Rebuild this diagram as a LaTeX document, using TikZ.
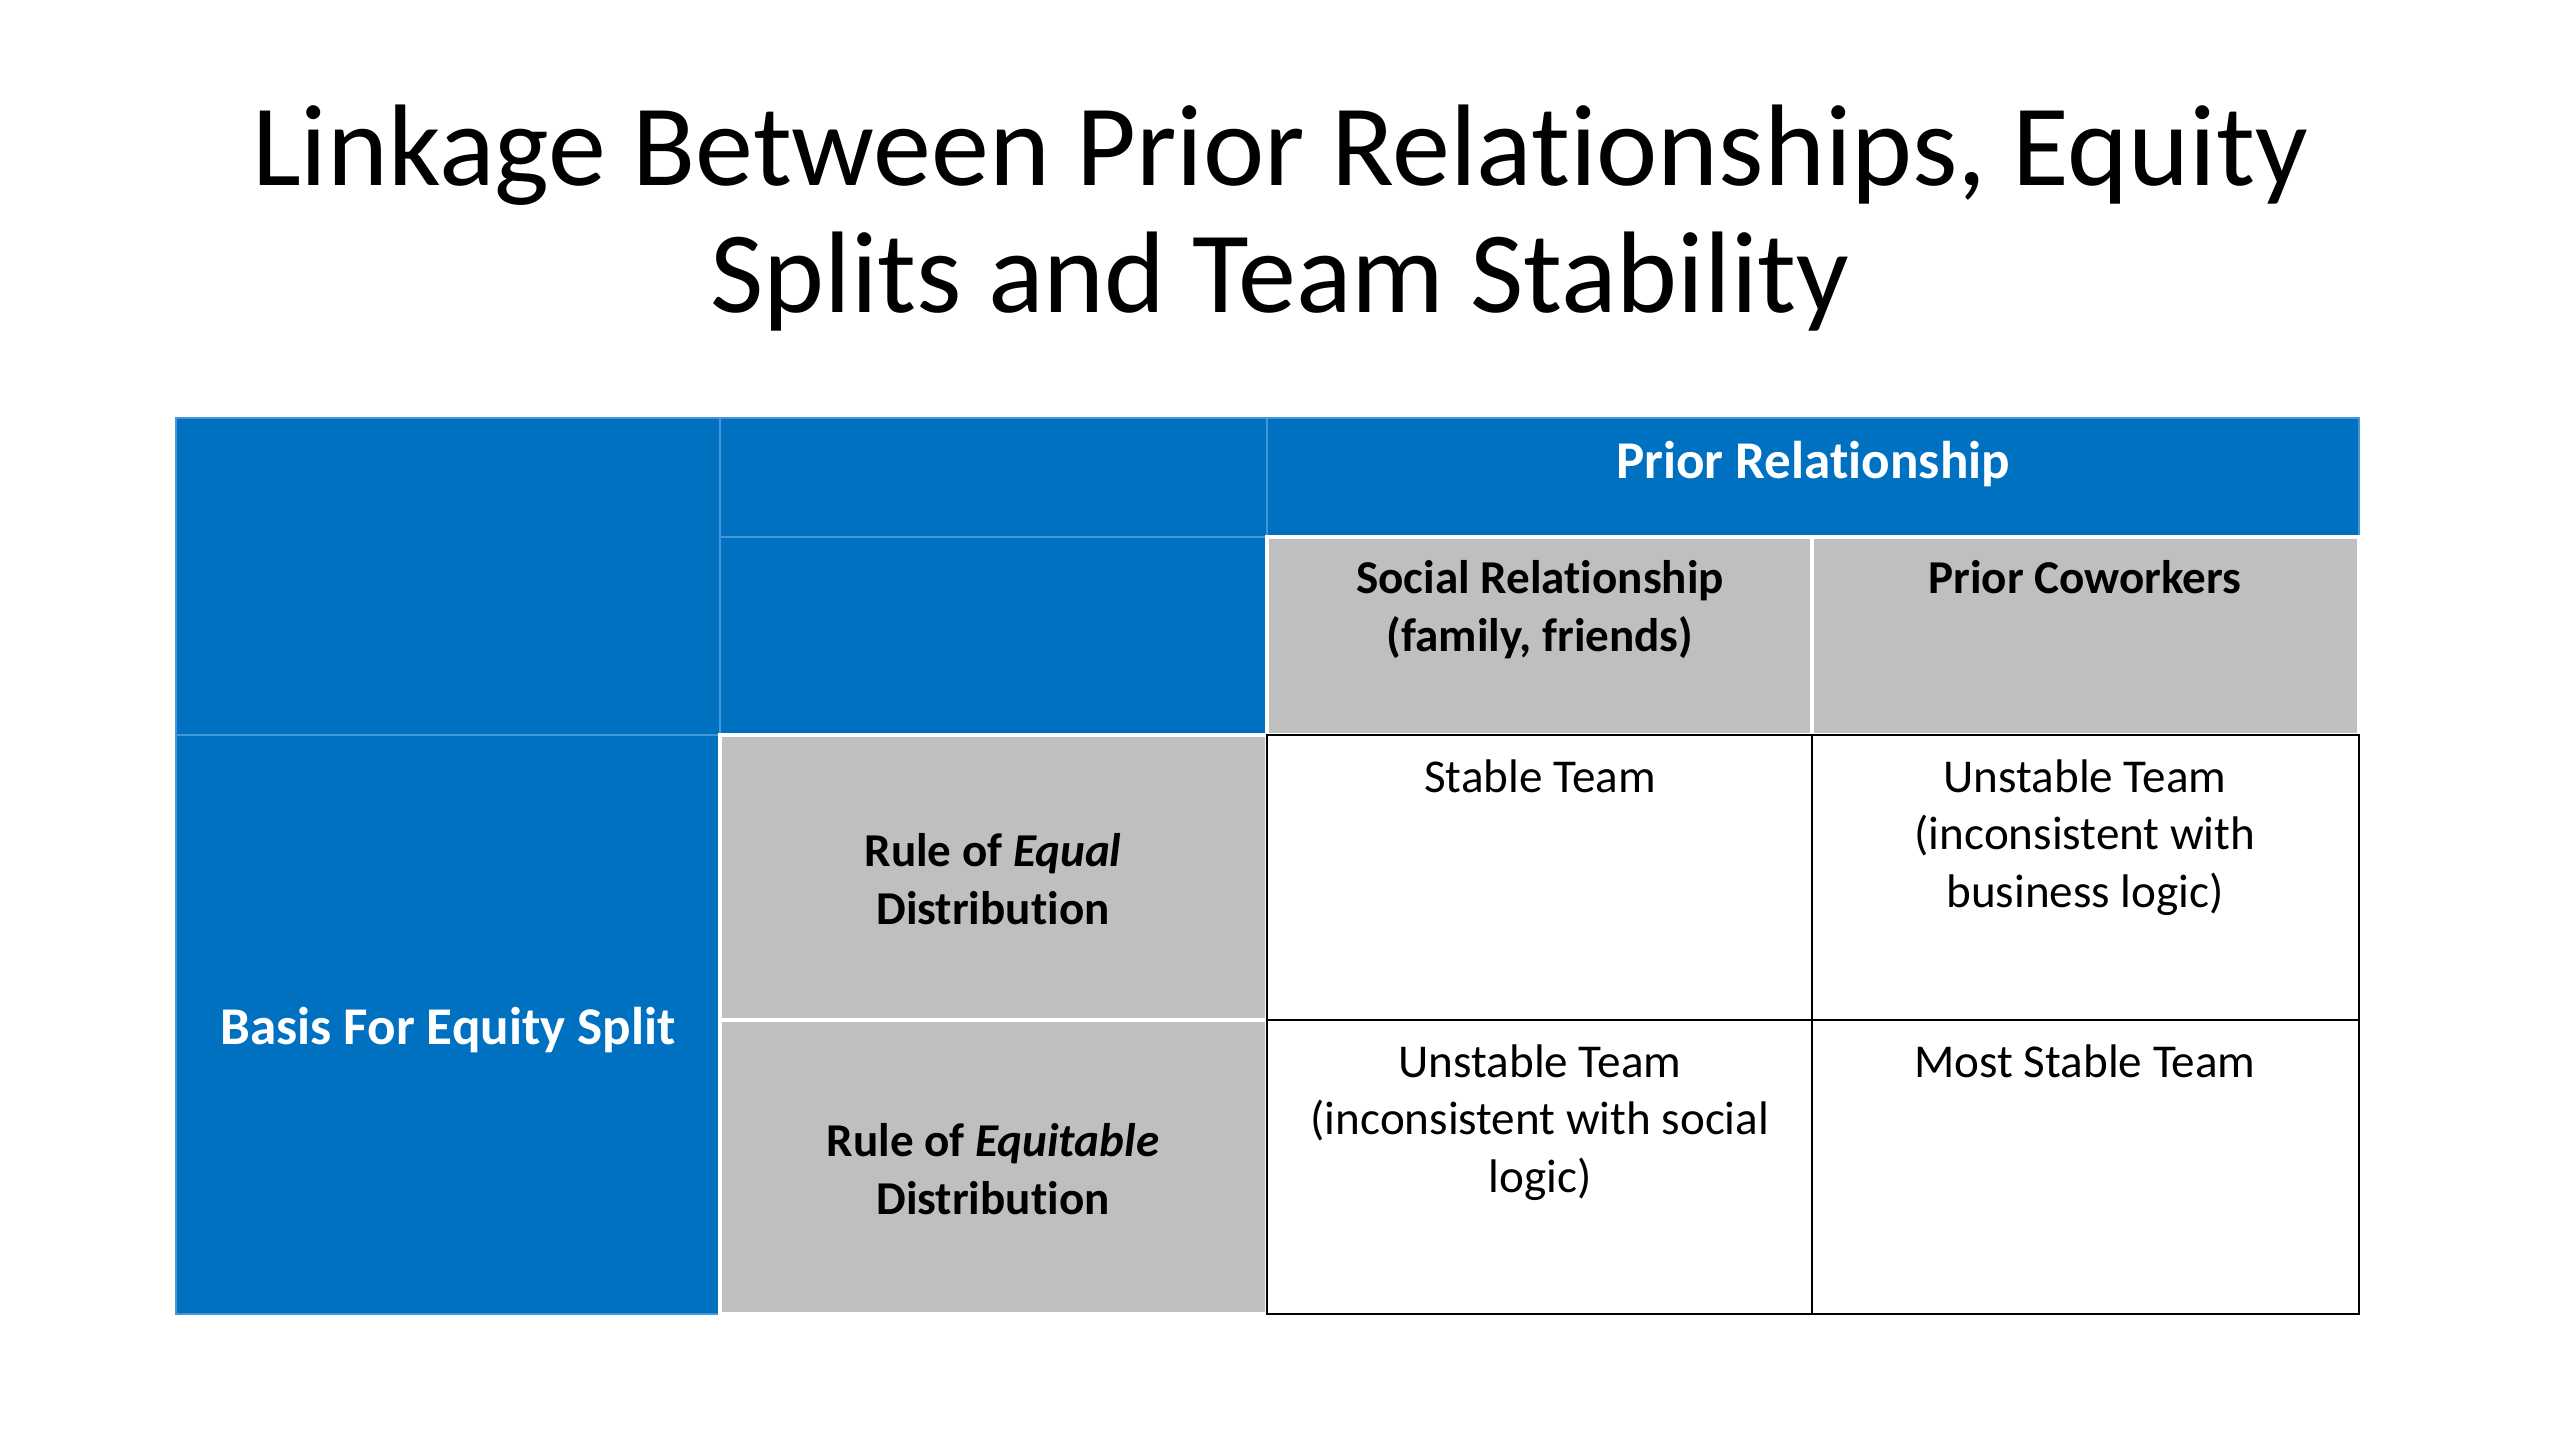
\documentclass[tikz,border=0pt]{standalone}
\usepackage{fontspec}
\setmainfont{Carlito}[Ligatures=NoCommon]
\usepackage{xcolor}
\usepackage{tikz}
\usetikzlibrary{positioning}
\definecolor{tblue}{RGB}{0,112,192}
\definecolor{tgray}{RGB}{191,191,191}
\definecolor{tline}{RGB}{70,150,215}
\newcommand{\bodysize}{\fontsize{13.4}{16.3}\selectfont}
\newcommand{\bigheadsize}{\fontsize{15.1}{18}\selectfont}

\begin{document}
\begin{tikzpicture}[x=0.01cm, y=-0.01cm,
		bluecell/.style={fill=tblue, draw=tline, line width=0.6pt},
		graycell/.style={fill=tgray, draw=white, line width=1pt},
		whitecell/.style={fill=white, draw=black, line width=0.8pt},
		celltext/.style={anchor=north, inner sep=0pt, align=center, font=\bodysize},
		headtext/.style={celltext, font=\bodysize\bfseries},
		bluetext/.style={celltext, text=white, font=\bigheadsize\bfseries}]
			\useasboundingbox[fill=white] (0,0) rectangle (2560,1440);
			\node[anchor=north, inner sep=0pt, align=center, font=\fontsize{33}{36.1}\selectfont] (title) at (1280,104) {Linkage Between Prior Relationships, Equity\\Splits and Team Stability};
			\draw[bluecell] (176,418) rectangle (720,735);
			\draw[bluecell] (720,418) rectangle (1267,537);
			\draw[bluecell] (720,537) rectangle (1267,735);
			\draw[bluecell] (1267,418) rectangle (2359,537);
			\draw[bluecell] (176,735) rectangle (720,1314);
			\foreach \xa/\ya/\xb/\yb in {1267/537/1812/735, 1812/537/2359/735, 720/735/1267/1020, 720/1020/1267/1314}
			{
				\draw[graycell] (\xa,\ya) rectangle (\xb,\yb);
			}
			\foreach \xa/\ya/\xb/\yb in {1267/735/1812/1020, 1812/735/2359/1020, 1267/1020/1812/1314, 1812/1020/2359/1314}
			{
				\draw[whitecell] (\xa,\ya) rectangle (\xb,\yb);
			}
			\node[bluetext] (prior) at (1813,441) {Prior Relationship};
			\node[headtext] (social) at (1540,560) {Social Relationship\\(family, friends)};
			\node[headtext] (cowork) at (2085,560) {Prior Coworkers};
			\node[bluetext, anchor=center] (basis) at (448,1030) {Basis For Equity Split};
			\node[headtext, anchor=center] (equal) at (993,879) {Rule of \textit{Equal}\\Distribution};
			\node[headtext, anchor=center] (equitable) at (993,1169) {Rule of \textit{Equitable}\\Distribution};
			\node[celltext] (stable) at (1540,759) {Stable Team};
			\node[celltext] (unstableA) at (2085,759) {Unstable Team\\(inconsistent with\\business logic)};
			\node[celltext] (unstableB) at (1540,1044) {Unstable Team\\(inconsistent with social\\logic)};
			\node[celltext] (moststable) at (2085,1044) {Most Stable Team};
		\end{tikzpicture}
\end{document}
